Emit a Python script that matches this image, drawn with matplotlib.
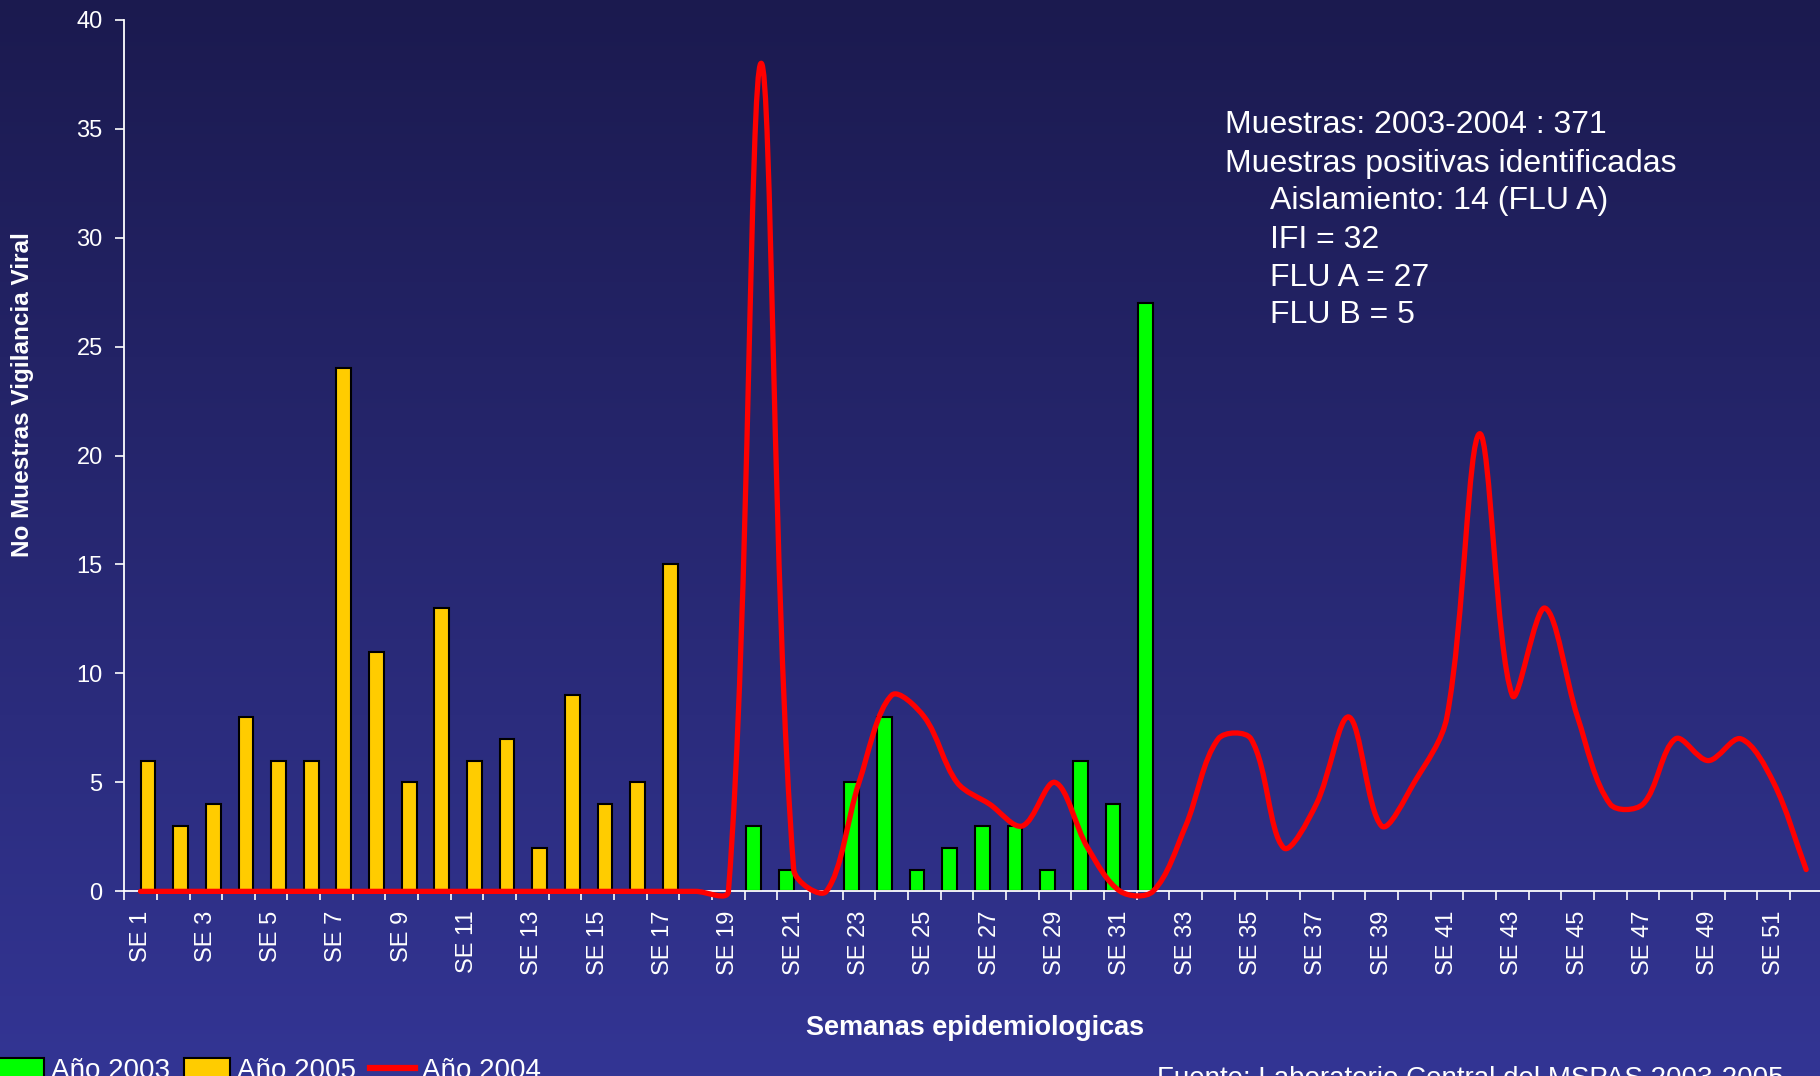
import numpy as np
import matplotlib
matplotlib.use('Agg')
import matplotlib.pyplot as plt
from matplotlib.path import Path
from matplotlib.patches import PathPatch, Patch
from matplotlib.lines import Line2D
from matplotlib.colors import LinearSegmentedColormap

plt.rcParams['font.family'] = ['Liberation Sans', 'DejaVu Sans']

# data
weeks = np.arange(1, 53)
week_labels = ['SE %d' % w for w in weeks[::2]]

weeks_2005 = np.arange(1, 18)
cases_2005 = [6, 3, 4, 8, 6, 6, 24, 11, 5, 13, 6, 7, 2, 9, 4, 5, 15]

weeks_2003 = np.arange(20, 33)
cases_2003 = [3, 1, 0, 5, 8, 1, 2, 3, 3, 1, 6, 4, 27]

cases_2004 = [0, 0, 0, 0, 0, 0, 0, 0, 0, 0, 0, 0, 0, 0, 0, 0, 0, 0, 0,
              38, 1, 0, 5, 9, 8, 5, 4, 3, 5, 2, 0, 0,
              3, 7, 7, 2, 4, 8, 3, 5, 8, 21,
              9, 13, 8, 4, 4, 7, 6, 7, 5, 1]

info_lines = ['Muestras: 2003-2004 : 371',
              'Muestras positivas identificadas',
              'Aislamiento: 14 (FLU A)',
              'IFI = 32',
              'FLU A = 27',
              'FLU B = 5']
info_indent = [0, 0, 1, 1, 1, 1]

GREEN = '#00ff00'
YELLOW = '#ffcc00'
RED = '#ff0000'
W, H = 1820, 1076


def smooth_path(ax, xs, ys):
    # bezier smoothing similar to the spreadsheet "smoothed line" option
    pts = ax.transData.transform(np.column_stack([xs, ys]))
    n = len(pts)
    verts = [pts[0]]
    codes = [Path.MOVETO]
    for i in range(n - 1):
        p0 = pts[max(i - 1, 0)]
        p1 = pts[i]
        p2 = pts[i + 1]
        p3 = pts[min(i + 2, n - 1)]
        d01 = np.hypot(*(p1 - p0))
        d12 = np.hypot(*(p2 - p1))
        d23 = np.hypot(*(p3 - p2))
        s1 = d12 / (d01 + d12) if d01 + d12 > 0 else 0
        s2 = d12 / (d12 + d23) if d12 + d23 > 0 else 0
        c1 = p1 + (p2 - p0) * s1 / 3
        c2 = p2 - (p3 - p1) * s2 / 3
        verts += [c1, c2, p2]
        codes += [Path.CURVE4] * 3
    verts = ax.transData.inverted().transform(np.array(verts))
    return Path(verts, codes)


fig = plt.figure(figsize=(W / 100, H / 100), dpi=100)

# gradient background
bg = fig.add_axes([0, 0, 1, 1], zorder=-10)
cmap = LinearSegmentedColormap.from_list('bg', ['#1b1a4f', '#333594'])
bg.imshow(np.linspace(0, 1, 256).reshape(-1, 1), cmap=cmap, aspect='auto',
          extent=[0, 1, 0, 1], origin='upper')
bg.axis('off')

ax = fig.add_axes([124.2 / W, 0.1716, 1698.3 / W, 0.8101])
ax.set_facecolor('none')
ax.set_xlim(0.5, 52.5)
ax.set_ylim(0, 40)

bw = 0.45
ax.bar(weeks_2003 - 0.225, cases_2003, width=bw, color=GREEN,
       edgecolor='black', linewidth=1.5)
ax.bar(weeks_2005 + 0.225, cases_2005, width=bw, color=YELLOW,
       edgecolor='black', linewidth=1.5)

line = PathPatch(smooth_path(ax, weeks, cases_2004), fill=False,
                 edgecolor=RED, linewidth=3.8, capstyle='round',
                 joinstyle='round', clip_on=False, zorder=3)
ax.add_patch(line)

for s in ['top', 'right']:
    ax.spines[s].set_visible(False)
for s in ['left', 'bottom']:
    ax.spines[s].set_color('white')
    ax.spines[s].set_linewidth(1.3)

ax.set_yticks(np.arange(0, 41, 5))
ax.tick_params(axis='y', colors='white', labelsize=17, length=6.5,
               width=1.2, pad=9)
ax.set_xticks(weeks[::2])
ax.set_xticklabels(week_labels, rotation=90)
ax.set_xticks(np.arange(0.5, 53, 1), minor=True)
ax.tick_params(axis='x', which='major', colors='white', labelsize=17,
               length=0, pad=14)
ax.tick_params(axis='x', which='minor', colors='white', length=6.5,
               width=1.2)

fig.text(975 / W, 1 - 1035 / H, 'Semanas epidemiologicas', color='white',
         fontsize=19.5, fontweight='bold', ha='center', va='baseline')
fig.text(23 / W, 1 - 395 / H, 'No Muestras Vigilancia Viral', color='white',
         fontsize=17.5, fontweight='bold', rotation=90, ha='center',
         va='center')

base_y = [133.3, 171.7, 209.3, 247.7, 286, 323.3]
for txt, ind, yb in zip(info_lines, info_indent, base_y):
    x0 = 1270 if ind else 1225
    fig.text(x0 / W, 1 - yb / H, txt, color='white', fontsize=23,
             ha='left', va='baseline')

fig.text(1157 / W, 1 - 1066 / H, 'Fuente: Laboratorio Central del MSPAS 2003-2005',
         color='white', fontsize=20, ha='left', va='top')

handles = [Patch(facecolor=GREEN, edgecolor='black', linewidth=1.5),
           Patch(facecolor=YELLOW, edgecolor='black', linewidth=1.5),
           Line2D([], [], color=RED, linewidth=4.5)]
leg = fig.legend(handles, ['Año 2003', 'Año 2005', 'Año 2004'],
                 loc='lower left', bbox_to_anchor=(-0.001, -0.007), ncol=3,
                 frameon=False, fontsize=20, handlelength=1.65,
                 handletextpad=0.25, columnspacing=0.5, borderpad=0,
                 borderaxespad=0)
for t in leg.get_texts():
    t.set_color('white')

fig.savefig('out.png', dpi=100)
